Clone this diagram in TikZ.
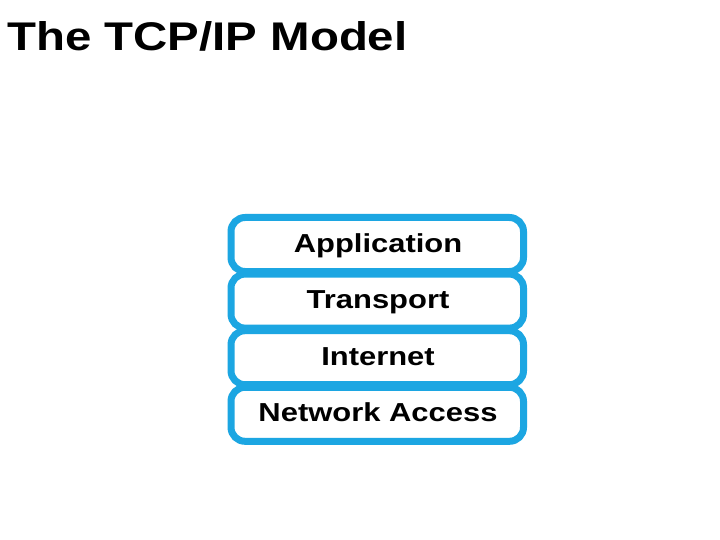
\documentclass[tikz,border=0pt]{standalone}
\usepackage{fontspec}
\setmainfont{Liberation Sans}
\definecolor{layerblue}{RGB}{28,166,226}
\tikzset{
  layerbox/.style={draw=layerblue, line width=7pt, rounded corners=14pt, fill=white},
  layertext/.style={font=\bfseries\fontsize{26}{30}\selectfont, text=black, anchor=base, inner sep=0pt},
  titletext/.style={font=\bfseries\fontsize{40}{46}\selectfont, text=black, anchor=base west, inner sep=0pt}
}
\begin{document}
\begin{tikzpicture}[x=1pt,y=-1pt]
\useasboundingbox[fill=white] (0,0) rectangle (720,540);
\node[titletext] (title) at (7,51) {\scalebox{1.185}[1]{The TCP/IP Model}};
\foreach \i/\name/\txt in {0/app/Application,1/trans/Transport,2/inet/Internet,3/netacc/Network Access}{
  \draw[layerbox] (231,217.5+56.6*\i) rectangle (523.5,271.5+56.6*\i);
  \node[layertext] (\name) at (378,252+56.6*\i) {\scalebox{1.19}[1]{\txt}};
}
\end{tikzpicture}
\end{document}
